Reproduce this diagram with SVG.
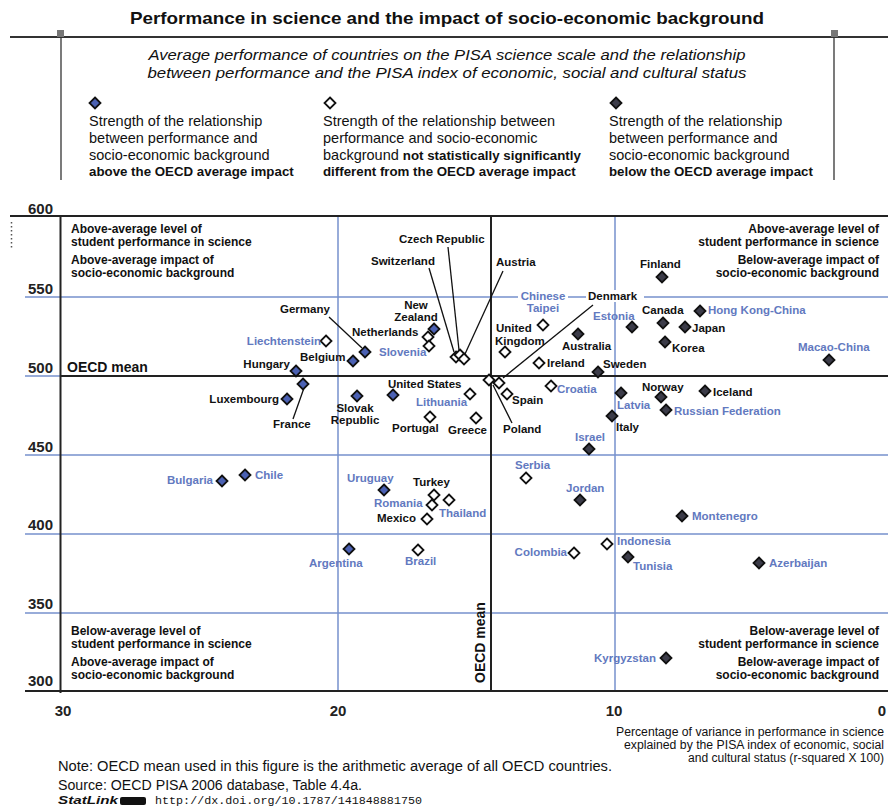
<svg xmlns="http://www.w3.org/2000/svg" xmlns:xlink="http://www.w3.org/1999/xlink" width="888" height="810" viewBox="0 0 888 810">
  <style>
    text { font-family: "Liberation Sans", Arial, sans-serif; }
    .title { font-size: 17px; font-weight: bold; fill: #111; }
    .sub { font-size: 14.5px; font-style: italic; fill: #111; }
    .leg { font-size: 14.5px; fill: #111; }
    .legb { font-size: 13.3px; font-weight: bold; }
    .quad { font-size: 12px; font-weight: bold; fill: #111; }
    .tick { font-size: 15px; font-weight: bold; fill: #222; }
    .mean { font-size: 14px; font-weight: bold; fill: #111; }
    .lbl { font-size: 11.5px; font-weight: bold; fill: #111; }
    .blu { font-size: 11.5px; font-weight: bold; fill: #6279c0; }
    .axt { font-size: 12px; fill: #111; }
    .note { font-size: 14px; fill: #111; }
    .url { font-family: "Liberation Mono", "Courier New", monospace; font-size: 11.5px; fill: #111; }
    .grid { stroke: #7690cc; stroke-width: 1.5; fill: none; }
    .axis { stroke: #222; stroke-width: 2; fill: none; }
    .frame { stroke: #333; stroke-width: 1.3; fill: none; }
    .lead { stroke: #111; stroke-width: 1.3; fill: none; }
    .hi { fill: #4b61b3; stroke: #111; stroke-width: 1.8; }
    .ns { fill: #ffffff; stroke: #111; stroke-width: 1.8; }
    .lo { fill: #3b3b48; stroke: #111; stroke-width: 1.8; }
  </style>
  <defs>
    <path id="dm" d="M0,-5.5 L5.5,0 L0,5.5 L-5.5,0 Z"/>
  </defs>

  <rect width="888" height="810" fill="#ffffff"/>

  <!-- heading and legend box -->
  <g id="heading">
    <text class="title" x="447" y="24" text-anchor="middle" textLength="634" lengthAdjust="spacingAndGlyphs">Performance in science and the impact of socio-economic background</text>
    <line x1="10" y1="37" x2="888" y2="37" stroke="#333" stroke-width="2"/>
    <rect x="57" y="30" width="7" height="7" fill="#777"/>
    <rect x="831" y="30" width="7" height="7" fill="#777"/>
    <line class="frame" x1="61" y1="37" x2="61" y2="180"/>
    <line class="frame" x1="834" y1="37" x2="834" y2="180"/>
    <text class="sub" x="447" y="60" text-anchor="middle" textLength="597" lengthAdjust="spacingAndGlyphs">Average performance of countries on the PISA science scale and the relationship</text>
    <text class="sub" x="447" y="78" text-anchor="middle" textLength="599" lengthAdjust="spacingAndGlyphs">between performance and the PISA index of economic, social and cultural status</text>
  </g>

  <g id="legend-above">
    <use href="#dm" class="hi" x="95" y="103"/>
    <text class="leg" x="89" y="126">Strength of the relationship</text>
    <text class="leg" x="89" y="143">between performance and</text>
    <text class="leg" x="89" y="160">socio-economic background</text>
    <text class="leg legb" x="89" y="176">above the OECD average impact</text>
  </g>
  <g id="legend-similar">
    <use href="#dm" class="ns" x="330" y="103"/>
    <text class="leg" x="323" y="126">Strength of the relationship between</text>
    <text class="leg" x="323" y="143">performance and socio-economic</text>
    <text class="leg" x="323" y="160">background <tspan class="legb">not statistically significantly</tspan></text>
    <text class="leg legb" x="323" y="176">different from the OECD average impact</text>
  </g>
  <g id="legend-below">
    <use href="#dm" class="lo" x="616" y="103"/>
    <text class="leg" x="609" y="126">Strength of the relationship</text>
    <text class="leg" x="609" y="143">between performance and</text>
    <text class="leg" x="609" y="160">socio-economic background</text>
    <text class="leg legb" x="609" y="176">below the OECD average impact</text>
  </g>

  <!-- plot frame and grid -->
  <g id="grid">
    <line class="grid" x1="25" y1="297" x2="888" y2="297"/>
    <line class="grid" x1="25" y1="376" x2="61" y2="376"/>
    <line class="grid" x1="25" y1="455" x2="888" y2="455"/>
    <line class="grid" x1="25" y1="534" x2="888" y2="534"/>
    <line class="grid" x1="25" y1="613" x2="888" y2="613"/>
    <line class="grid" x1="338" y1="216" x2="338" y2="691"/>
    <line class="grid" x1="615" y1="216" x2="615" y2="691"/>
    <line class="axis" x1="10" y1="216" x2="888" y2="216"/>
    <line class="axis" x1="25" y1="691" x2="888" y2="691"/>
    <line class="axis" x1="60.5" y1="216" x2="60.5" y2="693"/>
    <line class="axis" x1="61" y1="376" x2="888" y2="376"/>
    <line class="axis" x1="491" y1="216" x2="491" y2="691"/>
    <line x1="11.5" y1="222" x2="11.5" y2="250" stroke="#555" stroke-width="1.5" stroke-dasharray="1.5,2.5"/>
  </g>

  <g id="axis-labels">
    <text class="tick" x="53" y="214" text-anchor="end">600</text>
    <text class="tick" x="53" y="294" text-anchor="end">550</text>
    <text class="tick" x="53" y="373" text-anchor="end">500</text>
    <text class="tick" x="53" y="452" text-anchor="end">450</text>
    <text class="tick" x="53" y="530" text-anchor="end">400</text>
    <text class="tick" x="53" y="609" text-anchor="end">350</text>
    <text class="tick" x="53" y="686" text-anchor="end">300</text>
    <text class="tick" x="63" y="716" text-anchor="middle">30</text>
    <text class="tick" x="338" y="716" text-anchor="middle">20</text>
    <text class="tick" x="614" y="716" text-anchor="middle">10</text>
    <text class="tick" x="882" y="716" text-anchor="middle">0</text>
    <text class="mean" x="67" y="372">OECD mean</text>
    <text class="mean" transform="translate(485,683) rotate(-90)">OECD mean</text>
    <text class="axt" x="884" y="736" text-anchor="end" textLength="268" lengthAdjust="spacingAndGlyphs">Percentage of variance in performance in science</text>
    <text class="axt" x="884" y="749" text-anchor="end" textLength="260" lengthAdjust="spacingAndGlyphs">explained by the PISA index of economic, social</text>
    <text class="axt" x="884" y="762" text-anchor="end" textLength="196" lengthAdjust="spacingAndGlyphs">and cultural status (r-squared X 100)</text>
  </g>

  <!-- quadrant captions -->
  <g id="quadrants">
    <text class="quad" x="71" y="233">Above-average level of</text>
    <text class="quad" x="71" y="246">student performance in science</text>
    <text class="quad" x="71" y="264">Above-average impact of</text>
    <text class="quad" x="71" y="277">socio-economic background</text>
    <text class="quad" x="879" y="233" text-anchor="end">Above-average level of</text>
    <text class="quad" x="879" y="246" text-anchor="end">student performance in science</text>
    <text class="quad" x="879" y="264" text-anchor="end">Below-average impact of</text>
    <text class="quad" x="879" y="277" text-anchor="end">socio-economic background</text>
    <text class="quad" x="71" y="635">Below-average level of</text>
    <text class="quad" x="71" y="648">student performance in science</text>
    <text class="quad" x="71" y="666">Above-average impact of</text>
    <text class="quad" x="71" y="679">socio-economic background</text>
    <text class="quad" x="879" y="635" text-anchor="end">Below-average level of</text>
    <text class="quad" x="879" y="648" text-anchor="end">student performance in science</text>
    <text class="quad" x="879" y="666" text-anchor="end">Below-average impact of</text>
    <text class="quad" x="879" y="679" text-anchor="end">socio-economic background</text>
  </g>

  <!-- label backdrops where names sit on grid lines -->
  <rect x="518" y="290" width="50" height="12" fill="#ffffff"/>
  <rect x="586" y="290" width="58" height="12" fill="#ffffff"/>

  <!-- leader lines -->
  <g id="connectors">
    <line class="lead" x1="429" y1="268" x2="454" y2="352"/>
    <line class="lead" x1="448" y1="247" x2="459" y2="350"/>
    <line class="lead" x1="503" y1="271" x2="465" y2="354"/>
    <line class="lead" x1="329" y1="317" x2="362" y2="348"/>
    <line class="lead" x1="304" y1="388" x2="293" y2="419"/>
    <line class="lead" x1="493" y1="385" x2="512" y2="423"/>
    <line class="lead" x1="503" y1="378" x2="593" y2="305"/>
  </g>

  <!-- countries -->
  <g id="germany"><use href="#dm" class="hi" x="365" y="352"/><text class="lbl" x="280" y="313">Germany</text></g>
  <g id="liechtenstein"><use href="#dm" class="ns" x="326" y="341"/><text class="blu" x="321" y="345" text-anchor="end">Liechtenstein</text></g>
  <g id="belgium"><use href="#dm" class="hi" x="353" y="361"/><text class="lbl" x="300" y="361">Belgium</text></g>
  <g id="hungary"><use href="#dm" class="hi" x="296" y="371"/><text class="lbl" x="290" y="368" text-anchor="end">Hungary</text></g>
  <g id="france"><use href="#dm" class="hi" x="303" y="384"/><text class="lbl" x="273" y="428">France</text></g>
  <g id="luxembourg"><use href="#dm" class="hi" x="287" y="399"/><text class="lbl" x="279" y="403" text-anchor="end">Luxembourg</text></g>
  <g id="slovak-republic"><use href="#dm" class="hi" x="357" y="396"/><text class="lbl" x="355" y="412" text-anchor="middle">Slovak</text><text class="lbl" x="355" y="424" text-anchor="middle">Republic</text></g>
  <g id="united-states"><use href="#dm" class="hi" x="393" y="395"/><text class="lbl" x="388" y="388">United States</text></g>
  <g id="lithuania"><use href="#dm" class="ns" x="470" y="394"/><text class="blu" x="416" y="406">Lithuania</text></g>
  <g id="netherlands"><use href="#dm" class="ns" x="428" y="337"/><text class="lbl" x="352" y="336">Netherlands</text></g>
  <g id="slovenia"><use href="#dm" class="ns" x="429" y="346"/><text class="blu" x="379" y="356">Slovenia</text></g>
  <g id="new-zealand"><use href="#dm" class="hi" x="434" y="329"/><text class="lbl" x="416" y="309" text-anchor="middle">New</text><text class="lbl" x="416" y="321" text-anchor="middle">Zealand</text></g>
  <g id="portugal"><use href="#dm" class="ns" x="430" y="417"/><text class="lbl" x="392" y="432">Portugal</text></g>
  <g id="greece"><use href="#dm" class="ns" x="476" y="418"/><text class="lbl" x="448" y="434">Greece</text></g>
  <g id="switzerland"><use href="#dm" class="ns" x="456" y="357"/><text class="lbl" x="371" y="265">Switzerland</text></g>
  <g id="czech-republic"><use href="#dm" class="ns" x="460" y="355"/><text class="lbl" x="399" y="243">Czech Republic</text></g>
  <g id="austria"><use href="#dm" class="ns" x="464" y="359"/><text class="lbl" x="496" y="266">Austria</text></g>
  <g id="poland"><use href="#dm" class="ns" x="489" y="380"/><text class="lbl" x="503" y="433">Poland</text></g>
  <g id="denmark"><use href="#dm" class="ns" x="499" y="383"/><text class="lbl" x="588" y="300">Denmark</text></g>
  <g id="spain"><use href="#dm" class="ns" x="507" y="394"/><text class="lbl" x="512" y="404">Spain</text></g>
  <g id="united-kingdom"><use href="#dm" class="ns" x="505" y="352"/><text class="lbl" x="496" y="332">United</text><text class="lbl" x="495" y="345">Kingdom</text></g>
  <g id="chinese-taipei"><use href="#dm" class="ns" x="543" y="325"/><text class="blu" x="543" y="300" text-anchor="middle">Chinese</text><text class="blu" x="543" y="312" text-anchor="middle">Taipei</text></g>
  <g id="australia"><use href="#dm" class="lo" x="578" y="334"/><text class="lbl" x="562" y="350">Australia</text></g>
  <g id="ireland"><use href="#dm" class="ns" x="539" y="363"/><text class="lbl" x="547" y="367">Ireland</text></g>
  <g id="croatia"><use href="#dm" class="ns" x="551" y="386"/><text class="blu" x="557" y="393">Croatia</text></g>
  <g id="israel"><use href="#dm" class="lo" x="589" y="449"/><text class="blu" x="575" y="441">Israel</text></g>
  <g id="estonia"><use href="#dm" class="lo" x="632" y="327"/><text class="blu" x="593" y="320">Estonia</text></g>
  <g id="finland"><use href="#dm" class="lo" x="662" y="277"/><text class="lbl" x="640" y="268">Finland</text></g>
  <g id="canada"><use href="#dm" class="lo" x="663" y="323"/><text class="lbl" x="642" y="314">Canada</text></g>
  <g id="hong-kong-china"><use href="#dm" class="lo" x="700" y="311"/><text class="blu" x="708" y="314">Hong Kong-China</text></g>
  <g id="japan"><use href="#dm" class="lo" x="685" y="327"/><text class="lbl" x="692" y="332">Japan</text></g>
  <g id="korea"><use href="#dm" class="lo" x="665" y="342"/><text class="lbl" x="672" y="352">Korea</text></g>
  <g id="macao-china"><use href="#dm" class="lo" x="829" y="360"/><text class="blu" x="798" y="351">Macao-China</text></g>
  <g id="sweden"><use href="#dm" class="lo" x="598" y="372"/><text class="lbl" x="603" y="368">Sweden</text></g>
  <g id="norway"><use href="#dm" class="lo" x="661" y="397"/><text class="lbl" x="642" y="391">Norway</text></g>
  <g id="iceland"><use href="#dm" class="lo" x="705" y="391"/><text class="lbl" x="713" y="396">Iceland</text></g>
  <g id="latvia"><use href="#dm" class="lo" x="621" y="393"/><text class="blu" x="617" y="409">Latvia</text></g>
  <g id="russian-federation"><use href="#dm" class="lo" x="666" y="410"/><text class="blu" x="674" y="415">Russian Federation</text></g>
  <g id="italy"><use href="#dm" class="lo" x="612" y="416"/><text class="lbl" x="616" y="431">Italy</text></g>
  <g id="bulgaria"><use href="#dm" class="hi" x="222" y="481"/><text class="blu" x="213" y="484" text-anchor="end">Bulgaria</text></g>
  <g id="chile"><use href="#dm" class="hi" x="245" y="475"/><text class="blu" x="255" y="479">Chile</text></g>
  <g id="uruguay"><use href="#dm" class="hi" x="384" y="490"/><text class="blu" x="347" y="482">Uruguay</text></g>
  <g id="turkey"><use href="#dm" class="ns" x="434" y="495"/><text class="lbl" x="413" y="486">Turkey</text></g>
  <g id="romania"><use href="#dm" class="ns" x="432" y="505"/><text class="blu" x="374" y="507">Romania</text></g>
  <g id="thailand"><use href="#dm" class="ns" x="449" y="500"/><text class="blu" x="439" y="517">Thailand</text></g>
  <g id="mexico"><use href="#dm" class="ns" x="427" y="519"/><text class="lbl" x="377" y="522">Mexico</text></g>
  <g id="argentina"><use href="#dm" class="hi" x="349" y="549"/><text class="blu" x="309" y="567">Argentina</text></g>
  <g id="brazil"><use href="#dm" class="ns" x="418" y="550"/><text class="blu" x="405" y="565">Brazil</text></g>
  <g id="serbia"><use href="#dm" class="ns" x="526" y="478"/><text class="blu" x="515" y="469">Serbia</text></g>
  <g id="jordan"><use href="#dm" class="lo" x="580" y="500"/><text class="blu" x="566" y="492">Jordan</text></g>
  <g id="colombia"><use href="#dm" class="ns" x="574" y="553"/><text class="blu" x="567" y="556" text-anchor="end">Colombia</text></g>
  <g id="montenegro"><use href="#dm" class="lo" x="682" y="516"/><text class="blu" x="692" y="520">Montenegro</text></g>
  <g id="indonesia"><use href="#dm" class="ns" x="607" y="544"/><text class="blu" x="617" y="545">Indonesia</text></g>
  <g id="tunisia"><use href="#dm" class="lo" x="628" y="557"/><text class="blu" x="633" y="570">Tunisia</text></g>
  <g id="azerbaijan"><use href="#dm" class="lo" x="759" y="563"/><text class="blu" x="769" y="567">Azerbaijan</text></g>
  <g id="kyrgyzstan"><use href="#dm" class="lo" x="666" y="658"/><text class="blu" x="594" y="662">Kyrgyzstan</text></g>

  <!-- notes -->
  <g id="notes">
    <text class="note" x="58" y="771" textLength="554" lengthAdjust="spacingAndGlyphs">Note: OECD mean used in this figure is the arithmetic average of all OECD countries.</text>
    <text class="note" x="58" y="790" textLength="304" lengthAdjust="spacingAndGlyphs">Source: OECD PISA 2006 database, Table 4.4a.</text>
    <text x="58" y="804" font-size="10.5" font-weight="bold" font-style="italic" fill="#111" textLength="60" lengthAdjust="spacingAndGlyphs">StatLink</text>
    <rect x="120" y="797" width="26" height="8" rx="2" fill="#111"/>
    <text class="url" x="155" y="804" textLength="267" lengthAdjust="spacingAndGlyphs">http://dx.doi.org/10.1787/141848881750</text>
  </g>
</svg>
